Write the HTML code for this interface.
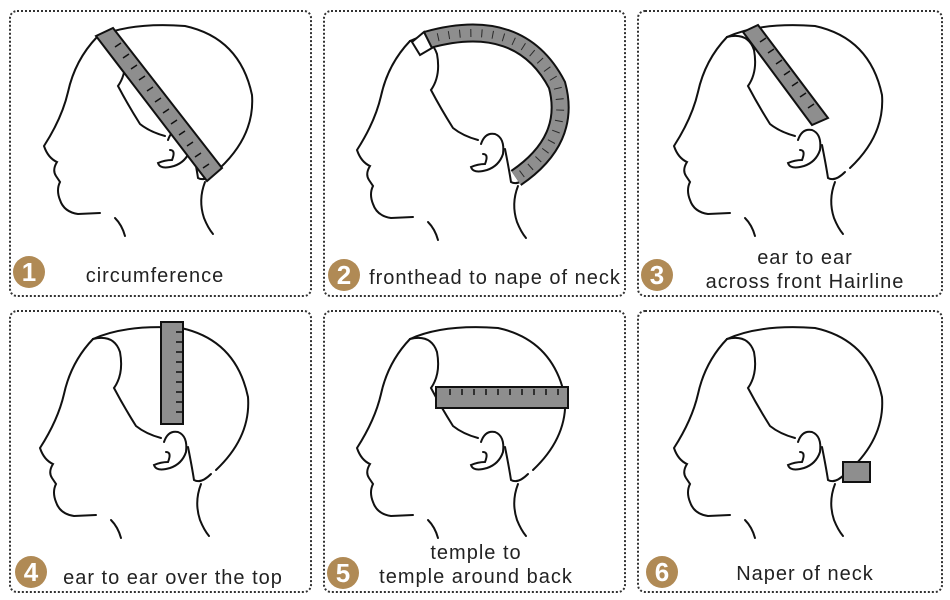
<!DOCTYPE html>
<html><head><style>
body{margin:0;background:#fff;width:950px;height:600px;overflow:hidden;position:relative;font-family:"Liberation Sans",sans-serif}
.p{position:absolute;border:2px dotted #333;border-radius:8px;box-sizing:border-box}
.t{position:absolute;color:#222;font-size:20px;letter-spacing:1px;text-align:center;line-height:24px}
.b{position:absolute;width:32px;height:32px;border-radius:50%;background:#b08a55;color:#fff;font-weight:bold;font-size:26px;line-height:32px;text-align:center}
svg{position:absolute;left:0;top:0}
</style></head><body>
<div class="p" style="left:9px;top:10px;width:303px;height:287px"></div>
<div class="p" style="left:323px;top:10px;width:303px;height:287px"></div>
<div class="p" style="left:637px;top:10px;width:306px;height:287px"></div>
<div class="p" style="left:9px;top:310px;width:303px;height:283px"></div>
<div class="p" style="left:323px;top:310px;width:303px;height:283px"></div>
<div class="p" style="left:637px;top:310px;width:306px;height:283px"></div>

<svg width="950" height="600">
<defs>
<g id="h" fill="none" stroke="#111" stroke-width="2" stroke-linecap="round">
<path d="M97,37 Q130,22 185,26 Q240,38 252,95 Q255,135 220,168"/>
<path d="M97,37 Q75,60 68,92 Q62,118 44,146 Q48,158 57,162 Q52,170 56,176 L60,182 Q56,190 60,200 Q64,212 78,214 L100,213"/>
<path d="M115,218 Q122,225 125,236"/>
<path d="M205,182 Q198,200 204,218 Q208,228 213,234"/>
<path d="M97,37 Q118,32 124,50 Q128,72 118,86 Q128,105 140,124 Q150,132 165,136"/>
<path d="M168,140 Q172,128 182,130 Q192,134 190,150 Q186,162 174,166 Q160,170 158,163 Q165,160 172,160 Q176,150 170,150"/>
<path d="M192,145 Q196,165 198,178 Q205,182 215,172"/>
</g>
</defs>
<use href="#h"/>
<use href="#h" transform="translate(313,4)"/>
<use href="#h" transform="translate(630,0)"/>
<use href="#h" transform="translate(-4,302)"/>
<use href="#h" transform="translate(313,302)"/>
<use href="#h" transform="translate(630,302)"/>

<g stroke="#111" stroke-width="2" fill="#8e8e8e">
<polygon points="96,36 113,28 222,168 207,181"/>
<polygon points="743,32 758,25 828,118 812,125"/>
<rect x="161" y="322" width="22" height="102"/>
<rect x="436" y="387" width="132" height="21"/>
<rect x="843" y="462" width="27" height="20"/>
</g>
<path d="M427,40 Q520,14 557,85 Q572,140 516,178" fill="none" stroke="#111" stroke-width="19"/>
<path d="M427,40 Q520,14 557,85 Q572,140 516,178" fill="none" stroke="#8e8e8e" stroke-width="15"/>
<path d="M427,40 Q520,14 557,85 Q572,140 516,178" fill="none" stroke="#111" stroke-width="8" stroke-dasharray="1 10" opacity=".8"/>
<polygon points="412,42 424,32 432,48 420,55" fill="#fff" stroke="#111" stroke-width="2"/>
<g stroke="#111" stroke-width="1.5">
<path d="M115,47l6,-4M123,58l6,-4M131,69l6,-4M139,80l6,-4M147,91l6,-4M155,102l6,-4M163,113l6,-4M171,124l6,-4M179,135l6,-4M187,146l6,-4M195,157l6,-4M203,168l6,-4"/>
<path d="M760,42l6,-4M768,53l6,-4M776,64l6,-4M784,75l6,-4M792,86l6,-4M800,97l6,-4M808,108l6,-4"/>
<path d="M176,332h6M176,342h6M176,352h6M176,362h6M176,372h6M176,382h6M176,392h6M176,402h6M176,412h6"/>
<path d="M450,389v6M462,389v6M474,389v6M486,389v6M498,389v6M510,389v6M522,389v6M534,389v6M546,389v6M558,389v6"/>
</g>
</svg>

<div class="b" style="left:13px;top:256px">1</div>
<div class="b" style="left:328px;top:259px">2</div>
<div class="b" style="left:641px;top:259px">3</div>
<div class="b" style="left:15px;top:556px">4</div>
<div class="b" style="left:327px;top:557px">5</div>
<div class="b" style="left:646px;top:556px">6</div>

<div class="t" style="left:60px;top:264px;width:190px">circumference</div>
<div class="t" style="left:366px;top:266px;width:258px">fronthead to nape of neck</div>
<div class="t" style="left:680px;top:246px;width:250px">ear to ear<br>across front Hairline</div>
<div class="t" style="left:55px;top:566px;width:236px">ear to ear over the top</div>
<div class="t" style="left:366px;top:541px;width:220px">temple to<br>temple around back</div>
<div class="t" style="left:700px;top:562px;width:210px">Naper of neck</div>
</body></html>
